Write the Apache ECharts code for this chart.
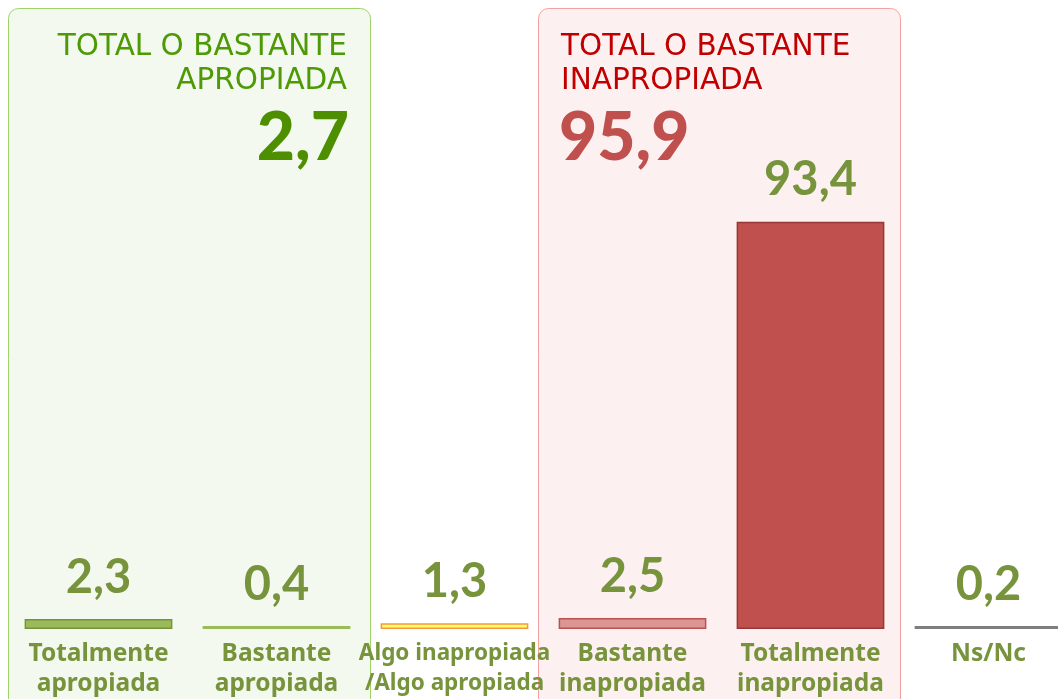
<!DOCTYPE html>
<html>
<head>
<meta charset="utf-8">
<script src="https://cdn.jsdelivr.net/npm/echarts@6/dist/echarts.min.js"></script>
<style>
  html, body { margin: 0; padding: 0; background: #fff; }
  #main { width: 1058px; height: 699px; }
</style>
</head>
<body>
<div id="main"></div>
<script>
var categories = [
  'Totalmente\napropiada',
  'Bastante\napropiada',
  'Algo inapropiada\n/Algo apropiada',
  'Bastante\ninapropiada',
  'Totalmente\ninapropiada',
  'Ns/Nc'
];
var values = [2.3, 0.4, 1.3, 2.5, 93.4, 0.2];
var fills = ['#9bbb59', '#9bbb59', '#ffff66', '#d99694', '#c0504d', '#7f7f7f'];
var borders = ['#76923c', '#9bbb59', '#f79646', '#c0504d', '#953735', '#7f7f7f'];
var totalApropiada = '2,7';
var totalInapropiada = '95,9';

(function(){
  var myChart = echarts.init(document.getElementById('main'));
  var textColor = '#77933c';

  var option = {
    animation: false,
    grid: { left: 9.5, right: -19.5, top: 193, bottom: 70, outerBoundsMode: 'none' },
    xAxis: {
      type: 'category',
      data: categories,
      axisLine: { show: false },
      axisTick: { show: false },
      axisLabel: {
        interval: 0,
        margin: 10,
        color: textColor,
        fontFamily: 'Noto Sans',
        fontWeight: 'bold',
        fontSize: 24.5,
        lineHeight: 30,
        formatter: function (v) {
          return v.indexOf('Algo') === 0 ? '{s|' + v.replace('\n', '}\n{s|') + '}' : v;
        },
        rich: { s: { fontSize: 22.5, fontWeight: 'bold', fontFamily: 'Noto Sans', color: textColor, lineHeight: 30 } }
      }
    },
    yAxis: { type: 'value', min: 0, max: 100, show: false, splitLine: { show: false } },
    graphic: [
      { type: 'rect', z: -10, shape: { x: 8.5, y: 8.5, width: 362, height: 720, r: 10 },
        style: { fill: '#f3f9ee', stroke: '#9fd36a', lineWidth: 1 } },
      { type: 'rect', z: -10, shape: { x: 538.5, y: 8.5, width: 362, height: 720, r: 10 },
        style: { fill: '#fdf0f0', stroke: '#f4a0a0', lineWidth: 1 } },
      { type: 'text', z: 5, style: { x: 347, y: 30, text: 'TOTAL O BASTANTE\nAPROPIADA', align: 'right',
        fill: '#4e9a06', font: '29.5px "DejaVu Sans"', lineHeight: 34 } },
      { type: 'text', z: 5, style: { x: 561, y: 30, text: 'TOTAL O BASTANTE\nINAPROPIADA', align: 'left',
        fill: '#c00000', font: '29.5px "DejaVu Sans"', lineHeight: 34 } },
      { type: 'text', z: 5, style: { x: 349, y: 106, text: totalApropiada, align: 'right',
        fill: '#4e8f00', font: '900 66px Lato' } },
      { type: 'text', z: 5, style: { x: 559, y: 106, text: totalInapropiada, align: 'left',
        fill: '#c0504d', font: '900 66px Lato' } }
    ],
    series: [{
      type: 'bar',
      barCategoryGap: '17%',
      barMinHeight: 3,
      data: values.map(function (v, i) {
        return { value: v, itemStyle: { color: fills[i], borderColor: borders[i], borderWidth: 1.5 } };
      }),
      label: {
        show: true,
        position: 'top',
        distance: 18,
        color: textColor,
        fontFamily: 'Lato',
        fontWeight: 'bold',
        fontSize: 47,
        formatter: function (p) { return String(p.value).replace('.', ','); }
      }
    }]
  };
  myChart.setOption(option);
})();
</script>
</body>
</html>
